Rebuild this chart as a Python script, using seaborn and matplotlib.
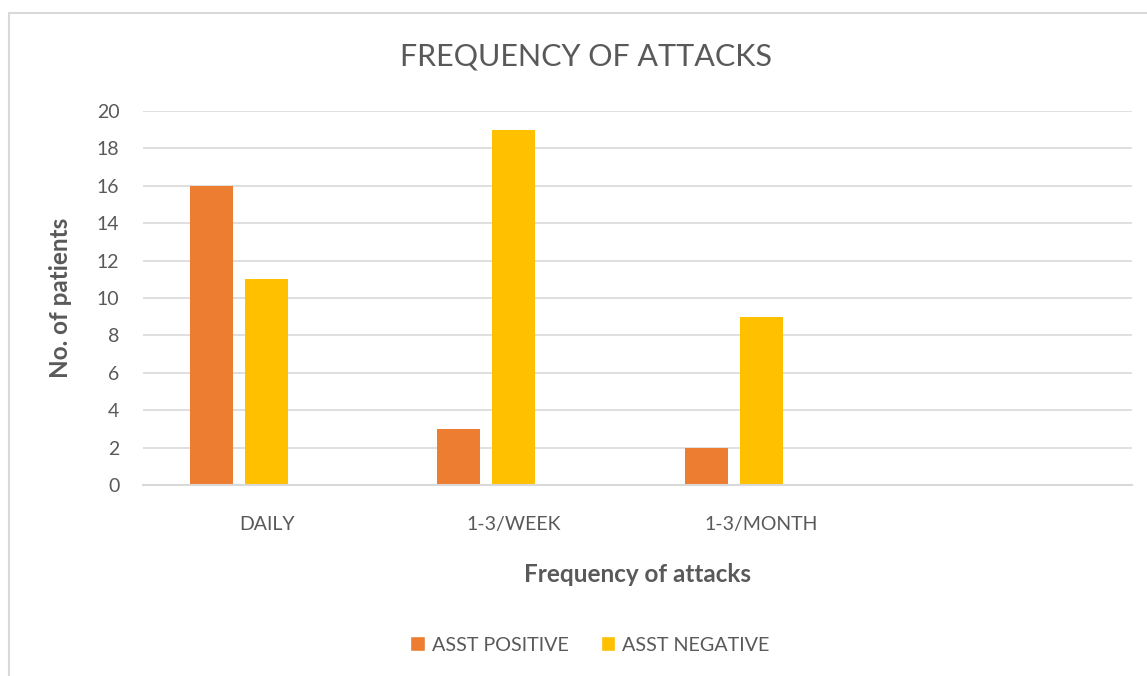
import matplotlib
matplotlib.use("Agg")
import matplotlib.pyplot as plt
import seaborn as sns
import pandas as pd
import numpy as np
from matplotlib.patches import Rectangle, Patch

categories = ["DAILY", "1-3/WEEK", "1-3/MONTH", ""]
asst_positive = [16, 3, 2, np.nan]
asst_negative = [11, 19, 9, np.nan]
series3 = [np.nan, np.nan, np.nan, np.nan]
series_names = ["ASST POSITIVE", "ASST NEGATIVE", "S3"]
colors = ["#ED7D31", "#FFC000", "#A5A5A5"]

rows = []
for name, vals in zip(series_names, [asst_positive, asst_negative, series3]):
    for c, v in zip(categories, vals):
        rows.append({"cat": c, "series": name, "value": v})
df = pd.DataFrame(rows)

sns.set_theme(style="white")
font = ["Lato", "DejaVu Sans"]
plt.rcParams["font.family"] = font
gray = "#595959"

fig = plt.figure(figsize=(11.47, 6.76), dpi=100)
W, H = 1147, 676
# chart border
fig.patches.append(Rectangle((8.5 / W, -0.1), 1.2, 1 - 13.5 / H + 0.1,
                             transform=fig.transFigure, fill=False,
                             edgecolor="#D9D9D9", linewidth=1.5))

ax = fig.add_axes([143 / W, 1 - 485 / H, (1132 - 143) / W, (485 - 111) / H])
sns.barplot(data=df, x="cat", y="value", hue="series", order=categories,
            hue_order=series_names, palette=colors, width=0.668, gap=0.22,
            ax=ax, legend=False, saturation=1, errorbar=None, linewidth=0)
ax.set_xlim(-0.5, 3.5)
ax.set_ylim(0, 20)
ax.set_yticks(range(0, 21, 2))
ax.yaxis.grid(True, color="#D9D9D9", linewidth=1.2)
ax.set_axisbelow(True)
for s in ["top", "right", "left"]:
    ax.spines[s].set_visible(False)
ax.spines["bottom"].set_color("#D9D9D9")
ax.spines["bottom"].set_linewidth(1.5)
ax.tick_params(axis="both", length=0, labelsize=14, labelcolor=gray)
ax.tick_params(axis="y", pad=17)
ax.tick_params(axis="x", pad=22)
ax.set_xlabel("Frequency of attacks", fontsize=17.5, fontweight="bold",
              color=gray, labelpad=22)
ax.set_ylabel("No. of patients", fontsize=17.5, fontweight="bold",
              color=gray, labelpad=18)
fig.text(586 / W, 1 - 57 / H, "FREQUENCY OF ATTACKS", fontsize=22,
         color=gray, ha="center", va="center")

handles = [Patch(facecolor=colors[0]), Patch(facecolor=colors[1])]
fig.legend(handles, series_names[:2], loc="center", ncol=2,
           bbox_to_anchor=(590 / W, 1 - 645 / H), frameon=False,
           fontsize=14.2, labelcolor=gray, handlelength=0.75, handleheight=0.75,
           handletextpad=0.35, columnspacing=1.6)

fig.savefig("out.png", dpi=100)
